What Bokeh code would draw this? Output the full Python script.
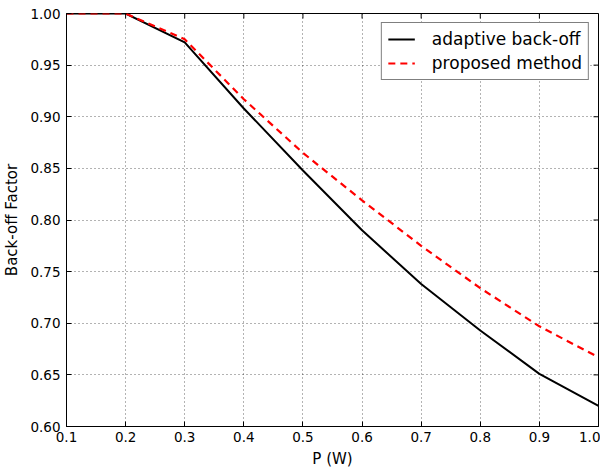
import math
from bokeh.plotting import figure
from bokeh.models import FixedTicker, PrintfTickFormatter, Legend, LegendItem, Range1d
from bokeh.embed import file_html
from bokeh.resources import INLINE

p_w = [0.1, 0.2, 0.3, 0.4, 0.5, 0.6, 0.7, 0.8, 0.9, 1.0]
adaptive = [1.0, 1.0, 0.972, 0.908, 0.848, 0.790, 0.738, 0.693, 0.651, 0.620]
proposed = [1.0, 1.0, 0.975, 0.917, 0.865, 0.819, 0.775, 0.734, 0.697, 0.667]
x_ticks = [0.1, 0.2, 0.3, 0.4, 0.5, 0.6, 0.7, 0.8, 0.9, 1.0]
y_ticks = [0.60, 0.65, 0.70, 0.75, 0.80, 0.85, 0.90, 0.95, 1.00]

FONT = "DejaVu Sans"

p = figure(frame_width=532, frame_height=413, output_backend="svg", toolbar_location=None,
           x_range=Range1d(0.1, 1.0), y_range=Range1d(0.6, 1.0),
           min_border_left=64, min_border_right=2, min_border_top=13, min_border_bottom=30)
p.outline_line_color = "black"
p.outline_line_width = 1
p.background_fill_color = "white"
p.border_fill_color = "white"

for ax in (p.xaxis[0], p.yaxis[0]):
    ax.major_tick_in = 5
    ax.major_tick_out = 0
    ax.minor_tick_line_color = None
    ax.axis_line_color = "black"
    ax.major_label_text_font = FONT
    ax.major_label_text_font_size = "13.5px"
    ax.major_label_text_color = "black"
    ax.axis_label_text_font = FONT
    ax.axis_label_text_font_size = "15px"
    ax.axis_label_text_font_style = "normal"
    ax.axis_label_text_color = "black"

p.xaxis[0].ticker = FixedTicker(ticks=x_ticks)
p.yaxis[0].ticker = FixedTicker(ticks=y_ticks)
p.xaxis[0].formatter = PrintfTickFormatter(format="%.1f")
p.yaxis[0].formatter = PrintfTickFormatter(format="%.2f")
p.xaxis[0].axis_label = "P (W)"
p.yaxis[0].axis_label = "Back-off Factor"
p.xaxis[0].major_label_standoff = 5
p.yaxis[0].major_label_standoff = 6
p.xaxis[0].axis_label_standoff = 5
p.yaxis[0].axis_label_standoff = 6

p.xgrid.ticker = FixedTicker(ticks=x_ticks)
p.ygrid.ticker = FixedTicker(ticks=y_ticks)
p.grid.grid_line_color = "black"
p.grid.grid_line_alpha = 0.6
p.grid.grid_line_dash = "1 3"
p.grid.grid_line_width = 1

# inward ticks on the top and right frame edges (matplotlib classic style)
p.ray(x=x_ticks, y=[1.0] * len(x_ticks), length=5, length_units="screen",
      angle=-math.pi / 2, line_color="black", line_width=1)
p.ray(x=[1.0] * len(y_ticks), y=y_ticks, length=5, length_units="screen",
      angle=math.pi, line_color="black", line_width=1)

r1 = p.line(p_w, adaptive, line_color="black", line_width=2)
r2 = p.line(p_w, proposed, line_color="red", line_width=2.2, line_dash="7 5")

legend = Legend(items=[LegendItem(label="adaptive back-off", renderers=[r1]),
                       LegendItem(label="proposed method", renderers=[r2])],
                location="top_right")
legend.label_text_font = FONT
legend.label_text_font_size = "17px"
legend.label_text_color = "black"
legend.border_line_color = "black"
legend.border_line_width = 1
legend.background_fill_alpha = 1
legend.margin = 9
legend.padding = 6
legend.spacing = 4
legend.glyph_width = 27
legend.label_standoff = 17
p.add_layout(legend)

open("out.html", "w").write(file_html(p, INLINE))
